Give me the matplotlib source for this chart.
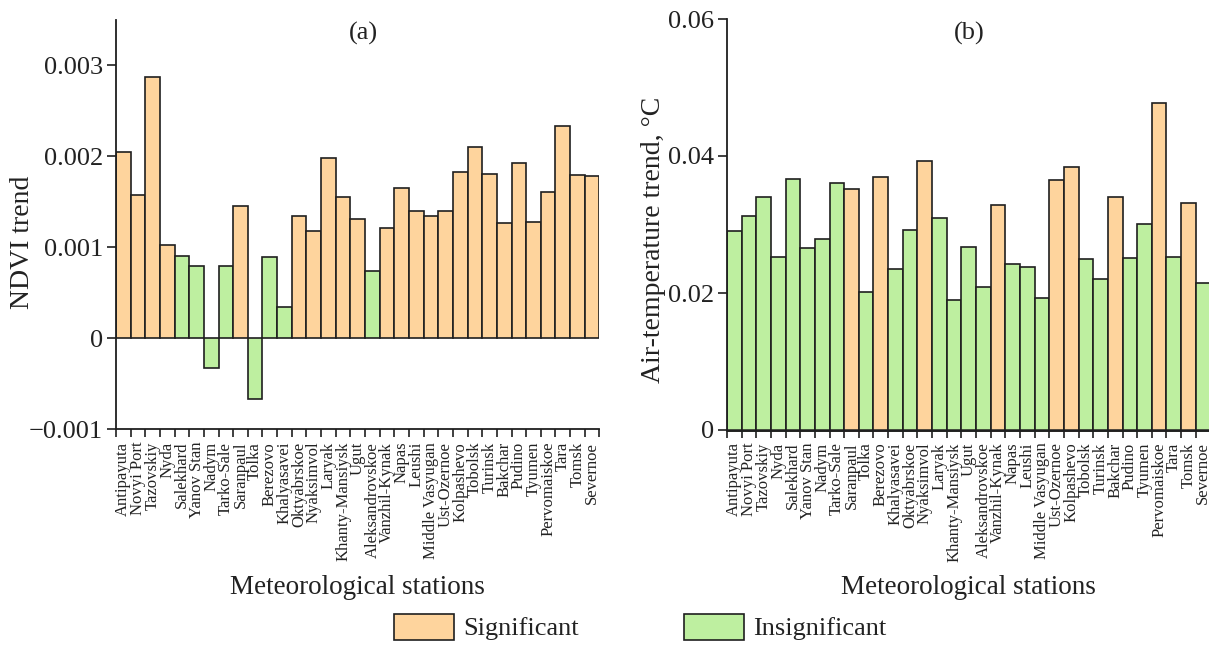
import numpy as np
import matplotlib
matplotlib.use("Agg")
import matplotlib.pyplot as plt
from matplotlib.patches import Patch
from matplotlib.ticker import FuncFormatter

plt.rcParams['font.family'] = ['Liberation Serif', 'DejaVu Serif']

stations = ["Antipayuta", "Novyi Port", "Tazovskiy", "Nyda", "Salekhard", "Yanov Stan",
            "Nadym", "Tarko-Sale", "Saranpaul", "Tolka", "Berezovo", "Khalyasavei",
            "Oktyabrskoe", "Nyaksimvol", "Laryak", "Khanty-Mansiysk", "Ugut",
            "Aleksandrovskoe", "Vanzhil-Kynak", "Napas", "Leushi", "Middle Vasyugan",
            "Ust-Ozernoe", "Kolpashevo", "Tobolsk", "Turinsk", "Bakchar", "Pudino",
            "Tyumen", "Pervomaiskoe", "Tara", "Tomsk", "Severnoe"]

ndvi_trend = [0.00205, 0.00158, 0.00287, 0.00103, 0.00091, 0.00079, -0.00033, 0.00080,
              0.00145, -0.00067, 0.00089, 0.00034, 0.00134, 0.00118, 0.00198, 0.00155,
              0.00131, 0.00074, 0.00121, 0.00165, 0.00140, 0.00135, 0.00140, 0.00183,
              0.00210, 0.00181, 0.00127, 0.00193, 0.00128, 0.00161, 0.00233, 0.00180,
              0.00178]
ndvi_significant = [1, 1, 1, 1, 0, 0, 0, 0, 1, 0, 0, 0, 1, 1, 1, 1, 1, 0, 1, 1, 1, 1, 1, 1,
                    1, 1, 1, 1, 1, 1, 1, 1, 1]

temp_trend = [0.0291, 0.0312, 0.0340, 0.0253, 0.0367, 0.0266, 0.0279, 0.0361, 0.0352,
              0.0202, 0.0370, 0.0235, 0.0292, 0.0393, 0.0309, 0.0190, 0.0267, 0.0209,
              0.0328, 0.0242, 0.0238, 0.0192, 0.0365, 0.0384, 0.0249, 0.0221, 0.0340,
              0.0251, 0.0301, 0.0478, 0.0253, 0.0332, 0.0214]
temp_significant = [0, 0, 0, 0, 0, 0, 0, 0, 1, 0, 1, 0, 0, 1, 0, 0, 0, 0, 1, 0, 0, 0, 1, 1,
                    0, 0, 1, 0, 0, 1, 0, 1, 0]

ndvi_yticks = [-0.001, 0, 0.001, 0.002, 0.003]
temp_yticks = [0, 0.02, 0.04, 0.06]

ORANGE = '#FED49D'
GREEN = '#BEEFA0'
EDGE = '#1f1f1f'
TXT = '#222222'

W, H = 1209, 645
fig = plt.figure(figsize=(W / 100, H / 100), dpi=100)

bar_w_px = 483.4
# panel a axes
axA = fig.add_axes([116 / W, 1 - 429.3 / H, bar_w_px / W, 409.3 / H])
# panel b axes: 0 at y=430, 0.06 at y=19; small offset below 0
b_low = -0.0003
px_per = 411 / 0.06
b_bottom_px = 430 + (-b_low) * px_per
axB = fig.add_axes([727 / W, 1 - b_bottom_px / H, bar_w_px / W, (b_bottom_px - 19) / H])

x = np.arange(len(stations))


def fmt(v, pos):
    if abs(v) < 1e-12:
        return '0'
    s = ('%.3f' % v) if abs(v) < 0.01 else ('%.2f' % v)
    return s.replace('-', '\u2212')


def style_axis(ax):
    ax.spines['top'].set_visible(False)
    ax.spines['right'].set_visible(False)
    for sp in ['left', 'bottom']:
        ax.spines[sp].set_linewidth(1.3)
        ax.spines[sp].set_color(EDGE)
    ax.set_xlim(-0.5, len(stations) - 0.5)
    ax.set_xticks(x)
    ax.set_xticklabels(stations, rotation=90, fontsize=12, color=TXT)
    ax.set_xticks(np.arange(-0.5, len(stations), 1), minor=True)
    ax.tick_params(axis='x', which='major', length=0, pad=9)
    ax.tick_params(axis='x', which='minor', length=6, width=1.2, direction='out', color=EDGE)
    ax.tick_params(axis='y', which='major', length=6.5, width=1.2, direction='out',
                   labelsize=19, pad=3, color=EDGE, labelcolor=TXT)
    ax.yaxis.set_major_formatter(FuncFormatter(fmt))


# Panel a
colsA = [ORANGE if s else GREEN for s in ndvi_significant]
axA.bar(x, ndvi_trend, width=1.0, color=colsA, edgecolor=EDGE, linewidth=1.2, zorder=2)
axA.set_ylim(-0.001, 0.0035)
axA.set_yticks(ndvi_yticks)
style_axis(axA)
axA.set_ylabel('NDVI trend', fontsize=20, color=TXT, va='center')
axA.yaxis.set_label_coords((23 - 116) / bar_w_px, (429.3 - 242) / 409.3)
axA.set_xlabel('Meteorological stations', fontsize=19.5, color=TXT)
axA.xaxis.label.set_verticalalignment('center')
axA.xaxis.set_label_coords(0.5, (429.3 - 587) / 409.3)
axA.spines['left'].set_bounds(-0.001, 0.0035)

# Panel b
colsB = [ORANGE if s else GREEN for s in temp_significant]
temp_heights = [v - b_low for v in temp_trend]
axB.bar(x, temp_heights, bottom=b_low, width=1.0, color=colsB, edgecolor=EDGE,
        linewidth=1.2, zorder=2)
axB.set_ylim(b_low, 0.06)
axB.spines['bottom'].set_position(('data', 0))
axB.set_yticks(temp_yticks)
style_axis(axB)
axB.spines['bottom'].set_linewidth(1.8)
axB.spines['bottom'].set_zorder(3)
axB.spines['left'].set_bounds(0, 0.06)
axB.set_ylabel('Air-temperature trend, \u00b0C', fontsize=20, color=TXT, va='center')
axB.yaxis.set_label_coords((653 - 727) / bar_w_px, (b_bottom_px - 240) / (b_bottom_px - 19))
axB.set_xlabel('Meteorological stations', fontsize=19.5, color=TXT)
axB.xaxis.label.set_verticalalignment('center')
axB.xaxis.set_label_coords(0.5, (b_bottom_px - 587) / (b_bottom_px - 19))

fig.text(363 / W, 1 - 33 / H, '(a)', fontsize=19, ha='center', va='center', color=TXT)
fig.text(969 / W, 1 - 33 / H, '(b)', fontsize=19, ha='center', va='center', color=TXT)

handles = [Patch(facecolor=ORANGE, edgecolor=EDGE, linewidth=1.2, label='Significant'),
           Patch(facecolor=GREEN, edgecolor=EDGE, linewidth=1.2, label='Insignificant')]
leg = fig.legend(handles=handles, loc='center', bbox_to_anchor=(640 / W, 1 - 627 / H),
                 ncol=2, frameon=False, fontsize=19, handlelength=2.27, handleheight=1.14,
                 handletextpad=0.35, columnspacing=4.0, borderaxespad=0, borderpad=0)
for t in leg.get_texts():
    t.set_color(TXT)

fig.savefig('out.png', dpi=100)
